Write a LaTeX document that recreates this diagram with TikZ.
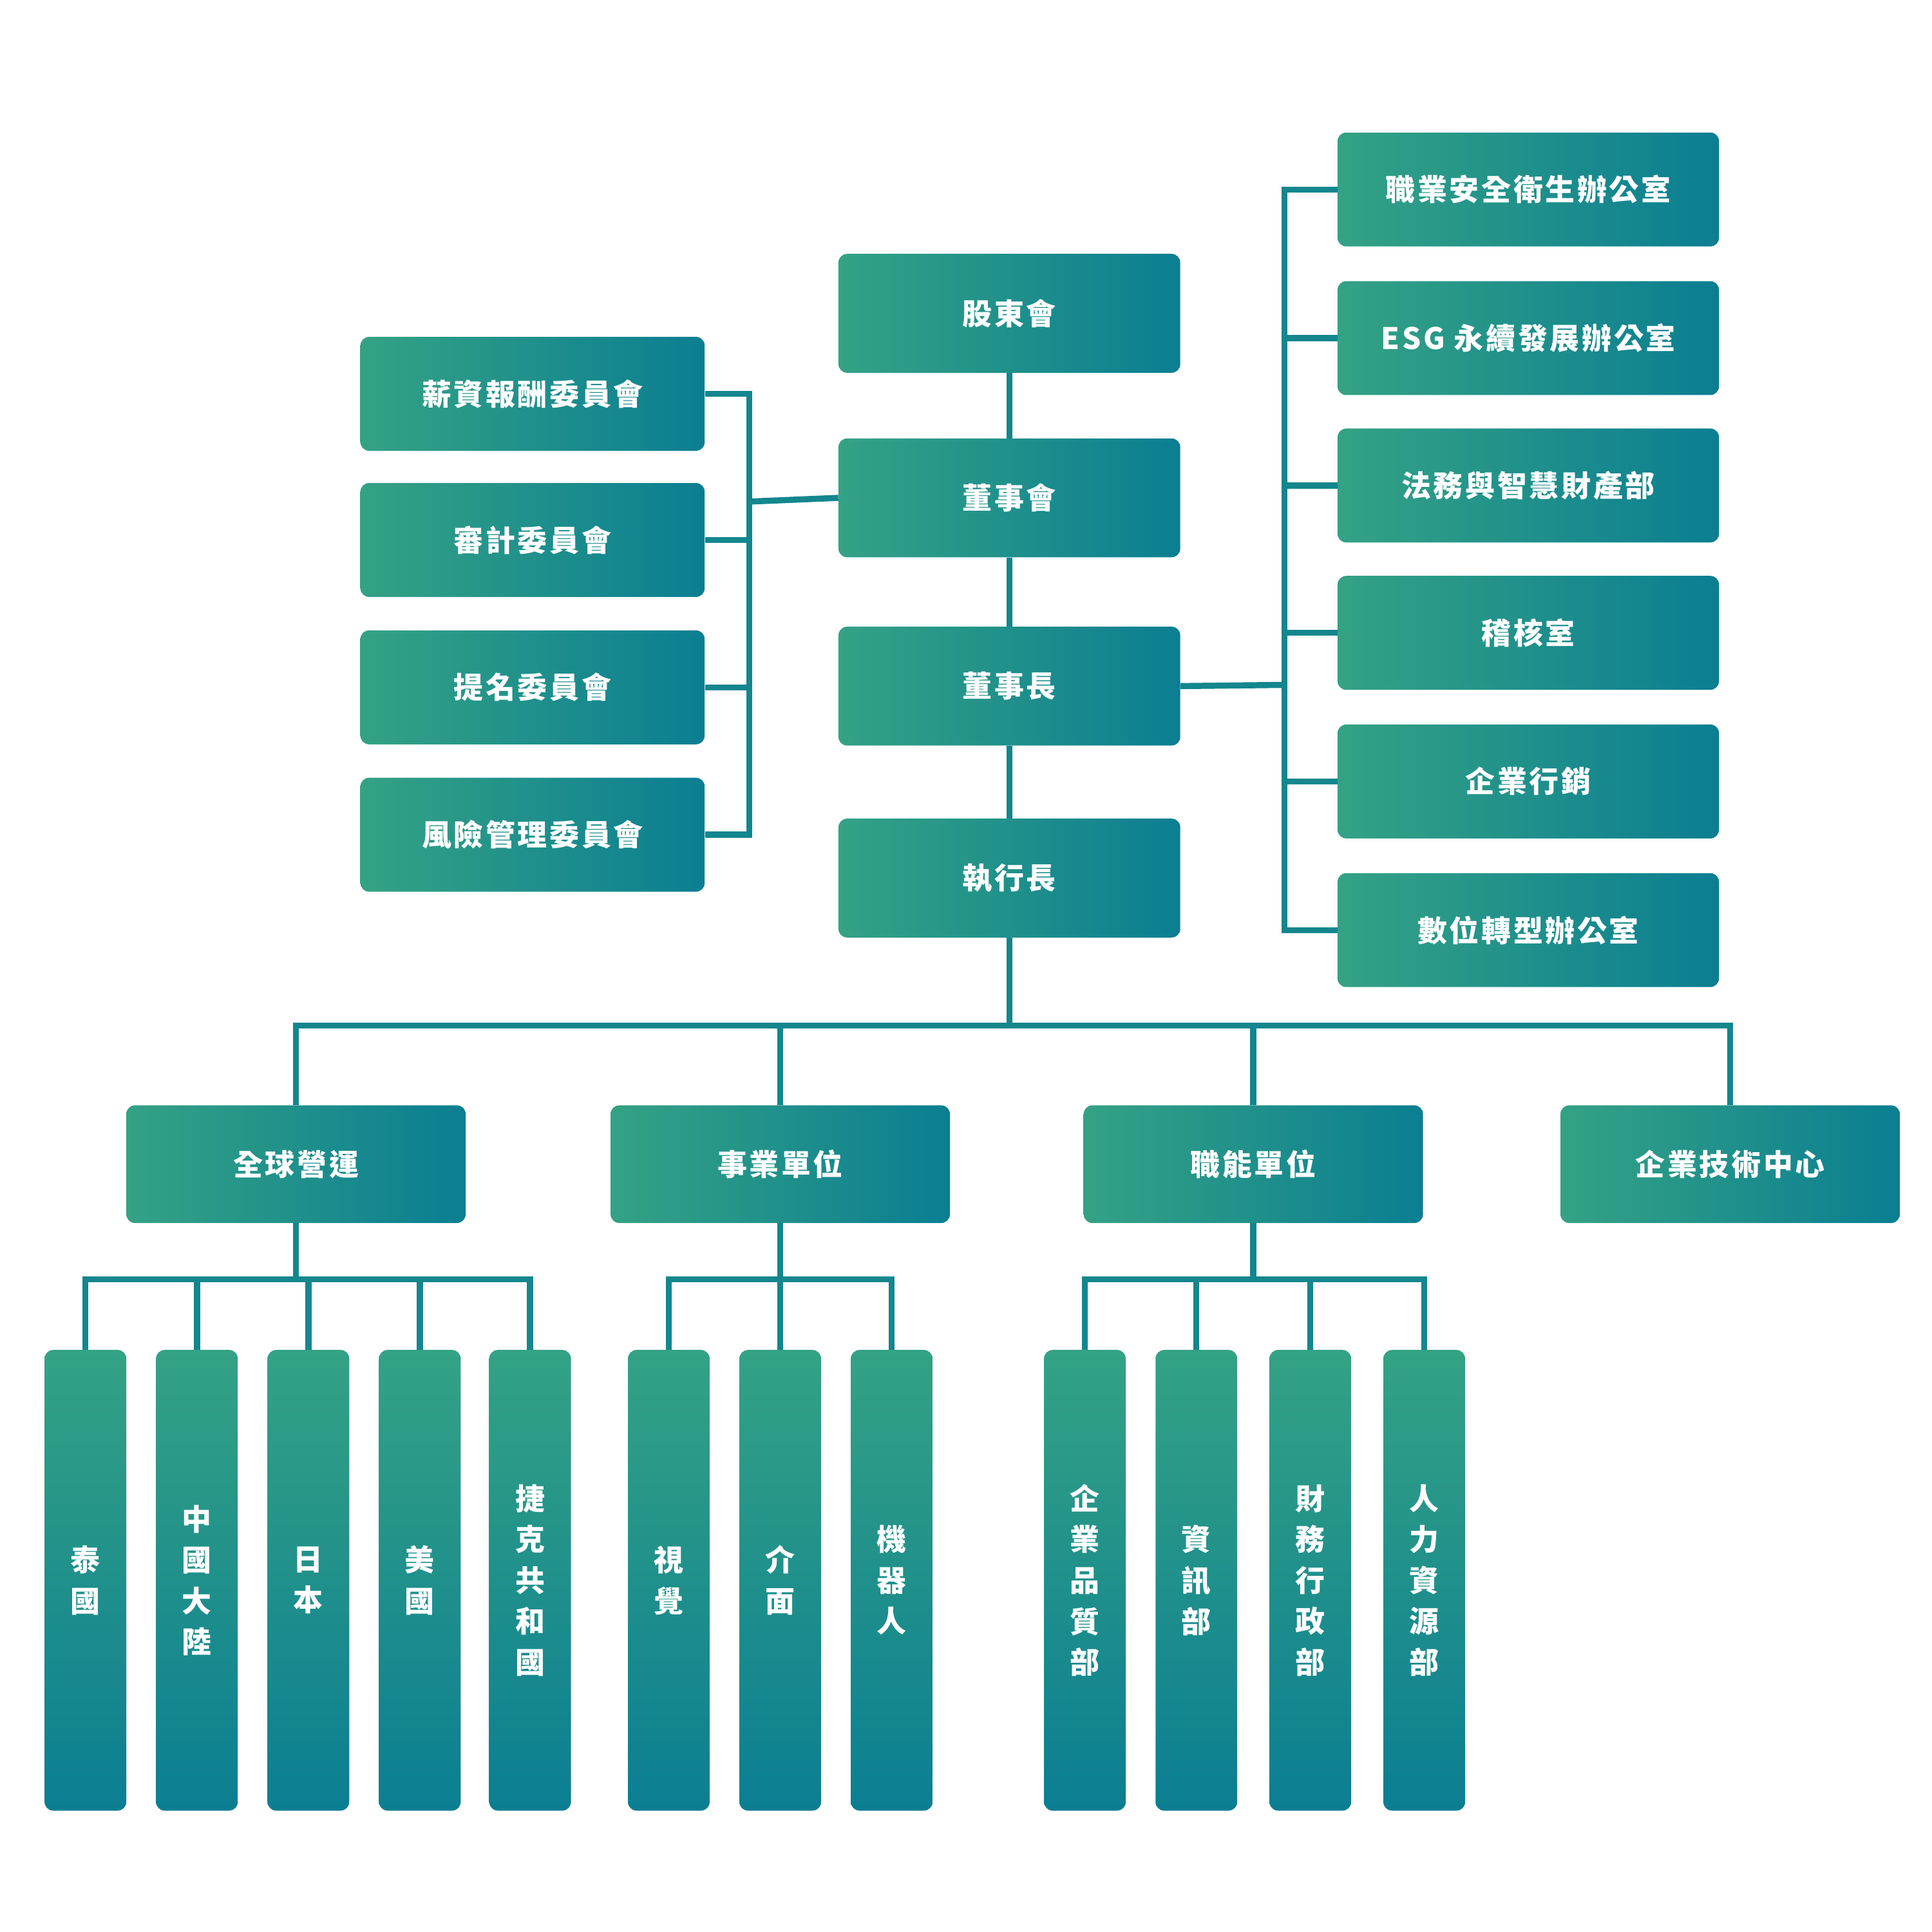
\documentclass[tikz,border=0pt]{standalone}
\usepackage{fontspec}
\newfontfamily\cjk{Noto Sans CJK TC}[LetterSpace=8]
\definecolor{gA}{HTML}{34A284}
\definecolor{gB}{HTML}{0B7E92}
\definecolor{ln}{HTML}{13868E}
\begin{document}
\begin{tikzpicture}[x=0.05cm,y=-0.05cm,
 base/.style={rounded corners=0.35cm,text=white,font=\cjk\bfseries\fontsize{34}{40}\selectfont,inner sep=0pt},
 box/.style={base,left color=gA,right color=gB},
 ctr/.style={box,minimum width=13.8cm,minimum height=4.8cm},
 com/.style={box,minimum width=13.9cm,minimum height=4.6cm},
 rgt/.style={box,minimum width=15.4cm,minimum height=4.6cm},
 lv2/.style={box,minimum width=13.7cm,minimum height=4.75cm},
 leaf/.style={base,top color=gA,bottom color=gB,minimum width=3.3cm,minimum height=18.6cm,align=center,font=\cjk\bfseries\fontsize{34}{47}\selectfont},
 con/.style={draw=ln,line width=7pt}]
\useasboundingbox (0,0) rectangle (1560,1560);
% center
\node[ctr] (gd) at (815,253) {股東會};
\node[ctr] (bd) at (815,402) {董事會};
\node[ctr] (ch) at (815,554) {董事長};
\node[ctr] (ceo) at (815,709) {執行長};
% committees
\node[com] (c1) at (430,318) {薪資報酬委員會};
\node[com] (c2) at (430,436) {審計委員會};
\node[com] (c3) at (430,555) {提名委員會};
\node[com] (c4) at (430,674) {風險管理委員會};
% right
\node[rgt] (r1) at (1234,153) {職業安全衛生辦公室};
\node[rgt] (r2) at (1234,273) {ESG 永續發展辦公室};
\node[rgt] (r3) at (1234,392) {法務與智慧財產部};
\node[rgt] (r4) at (1234,511) {稽核室};
\node[rgt] (r5) at (1234,631) {企業行銷};
\node[rgt] (r6) at (1234,751) {數位轉型辦公室};
% level 2
\node[lv2] (g1) at (239,940) {全球營運};
\node[lv2] (g2) at (630,940) {事業單位};
\node[lv2] (g3) at (1012,940) {職能單位};
\node[lv2] (g4) at (1397,940) {企業技術中心};
% leaves
\node[leaf] (a1) at (69,1276) {泰\\國};
\node[leaf] (a2) at (159,1276) {中\\國\\大\\陸};
\node[leaf] (a3) at (249,1276) {日\\本};
\node[leaf] (a4) at (339,1276) {美\\國};
\node[leaf] (a5) at (428,1276) {捷\\克\\共\\和\\國};
\node[leaf] (b1) at (540,1276) {視\\覺};
\node[leaf] (b2) at (630,1276) {介\\面};
\node[leaf] (b3) at (720,1276) {機\\器\\人};
\node[leaf] (d1) at (876,1276) {企\\業\\品\\質\\部};
\node[leaf] (d2) at (966,1276) {資\\訊\\部};
\node[leaf] (d3) at (1058,1276) {財\\務\\行\\政\\部};
\node[leaf] (d4) at (1150,1276) {人\\力\\資\\源\\部};
% connectors
\coordinate (LB) at (605,405);
\coordinate (RB) at (1037,553);
\coordinate (B) at (812,828);
\coordinate (G1) at (243,1033);
\coordinate (G2) at (632,1033);
\coordinate (G3) at (1012,1033);
\draw[con] (gd.south) -- (bd.north);
\draw[con] (bd.south) -- (ch.north);
\draw[con] (ch.south) -- (ceo.north);
\draw[con] (bd.west) -- (LB);
\foreach \c in {c1,c2,c3,c4} \draw[con] (\c.east) -| (LB);
\draw[con] (ch.east) -- (RB);
\foreach \c in {r1,r2,r3,r4,r5,r6} \draw[con] (\c.west) -| (RB);
\draw[con] (ceo.south) |- (B);
\draw[con] (B) -| (g1.north);
\draw[con] (B) -| (g2.north);
\draw[con] (B) -| (g3.north);
\draw[con] (B) -| (g4.north);
\draw[con] (g1.south) |- (G1);
\draw[con] (g2.south) |- (G2);
\draw[con] (g3.south) |- (G3);
\foreach \c in {a1,a2,a3,a4,a5} \draw[con] (G1) -| (\c.north);
\foreach \c in {b1,b2,b3} \draw[con] (G2) -| (\c.north);
\foreach \c in {d1,d2,d3,d4} \draw[con] (G3) -| (\c.north);
\end{tikzpicture}
\end{document}
